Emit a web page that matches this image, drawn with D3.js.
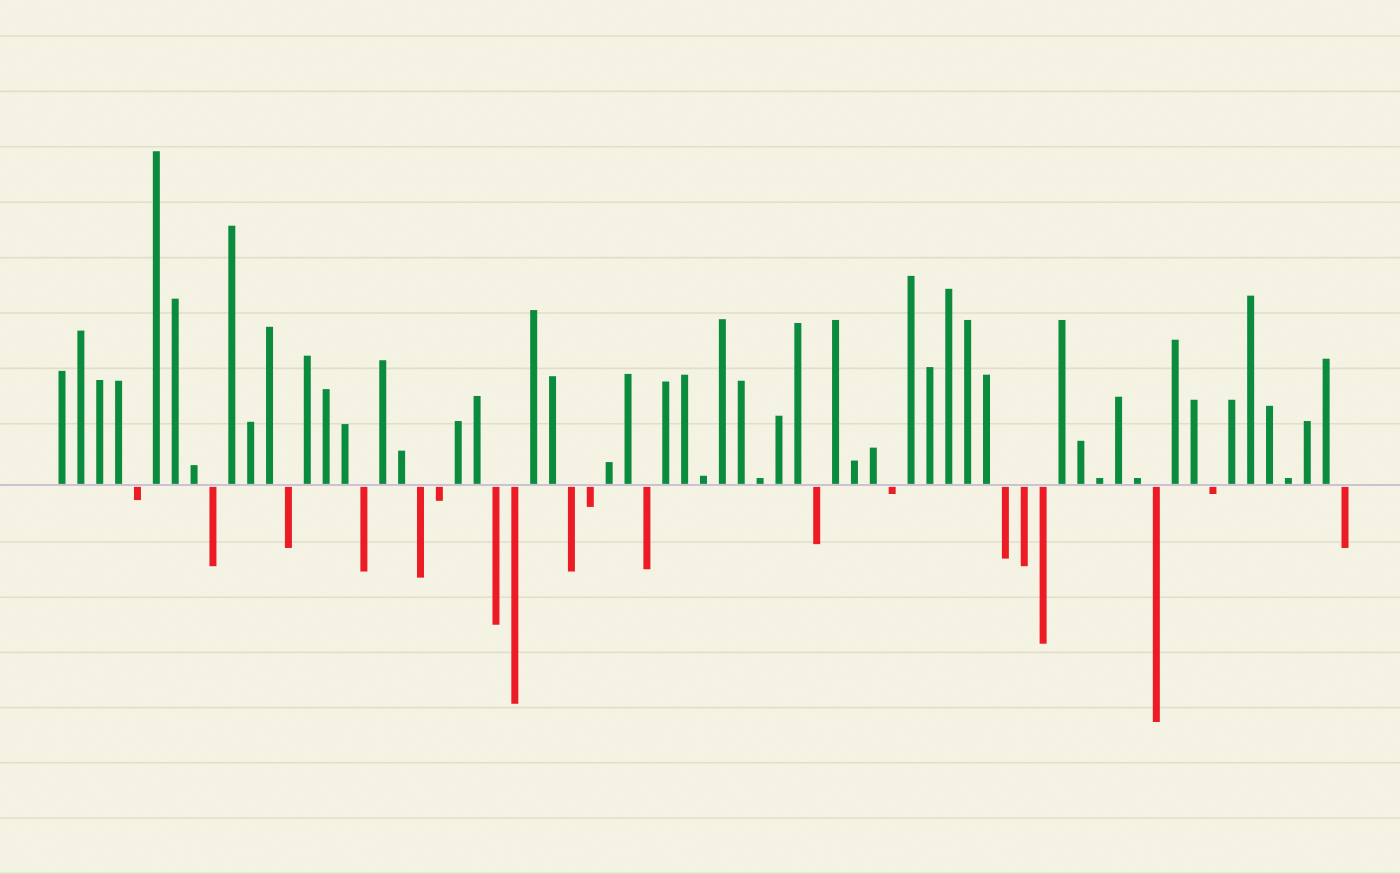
<!DOCTYPE html>
<html>
<head>
<meta charset="utf-8">
<script src="https://cdn.jsdelivr.net/npm/d3@7"></script>
<style>
  html, body { margin: 0; padding: 0; background: #f3f1e1; }
  svg { display: block; }
</style>
</head>
<body>
<svg id="chart" width="1400" height="874"></svg>
<script>
// Categories (periods; not labelled in the picture)
const categories = [
  1950,1951,1952,1953,1954,1955,1956,1957,1958,1959,
  1960,1961,1962,1963,1964,1965,1966,1967,1968,1969,
  1970,1971,1972,1973,1974,1975,1976,1977,1978,1979,
  1980,1981,1982,1983,1984,1985,1986,1987,1988,1989,
  1990,1991,1992,1993,1994,1995,1996,1997,1998,1999,
  2000,2001,2002,2003,2004,2005,2006,2007,2008,2009,
  2010,2011,2012,2013,2014,2015,2016,2017,2018
];
// Values (% change)
const values = [
  15.0, 20.3, 13.8, 13.7, -2.0, 43.9, 24.5, 2.6, -10.7, 34.1,
  8.3, 20.8, -8.3, 17.0, 12.6, 8.0, -11.4, 16.4, 4.5, -12.2,
  -2.1, 8.4, 11.7, -18.4, -28.8, 23.0, 14.3, -11.4, -2.9, 3.0,
  14.6, -11.1, 13.6, 14.5, 1.2, 21.8, 13.7, 0.9, 9.1, 21.3,
  -7.8, 21.7, 3.2, 4.9, -1.2, 27.5, 15.5, 25.8, 21.7, 14.5,
  -9.7, -10.7, -20.9, 21.7, 5.8, 0.9, 11.6, 0.9, -31.2, 19.1,
  11.2, -1.2, 11.2, 24.9, 10.4, 0.9, 8.4, 16.6, -8.3
];
const yDomain = [-51.2, 63.8];

const W = 1400, H = 874;
const svg = d3.select("#chart");

// paper grain
const defs = svg.append("defs");
const f = defs.append("filter").attr("id", "grain").attr("x", 0).attr("y", 0).attr("width", "100%").attr("height", "100%");
f.append("feTurbulence").attr("type", "fractalNoise").attr("baseFrequency", 0.8).attr("numOctaves", 2).attr("seed", 3).attr("result", "n");
f.append("feColorMatrix").attr("type", "matrix")
  .attr("values", "0 0 0 0 0.6  0 0 0 0 0.58  0 0 0 0 0.5  0 0 0 -1.2 0.7");

svg.append("rect").attr("width", W).attr("height", H).attr("fill", "#f5f3e3");
svg.append("rect").attr("width", W).attr("height", H).attr("filter", "url(#grain)").attr("opacity", 0.18);

const y = d3.scaleLinear().domain(yDomain).range([H, 0]);
const x = d3.scalePoint().domain(categories).range([62, 1345]);

// ruled paper lines
const upper = d3.range(0, 8).map(i => 36 + i * 55.4);
const lower = d3.range(0, 7).map(i => 542 + i * 55.2);
svg.append("g").selectAll("line").data(upper.concat(lower)).join("line")
  .attr("x1", 0).attr("x2", W)
  .attr("y1", d => d).attr("y2", d => d)
  .attr("stroke", "#e1dec9").attr("stroke-width", 1.6);

const barW = 7;
svg.append("g").selectAll("rect").data(values).join("rect")
  .attr("x", (d, i) => x(categories[i]) - barW / 2)
  .attr("width", barW)
  .attr("y", d => d >= 0 ? y(d) : y(0) + 2)
  .attr("height", d => d >= 0 ? y(0) - y(d) - 1 : y(d) - y(0) - 2)
  .attr("fill", d => d >= 0 ? "#0b8b3e" : "#ec1c27");

// zero line
svg.append("line")
  .attr("x1", 0).attr("x2", W)
  .attr("y1", y(0)).attr("y2", y(0))
  .attr("stroke", "#c9c3d3").attr("stroke-width", 2);
</script>
</body>
</html>
